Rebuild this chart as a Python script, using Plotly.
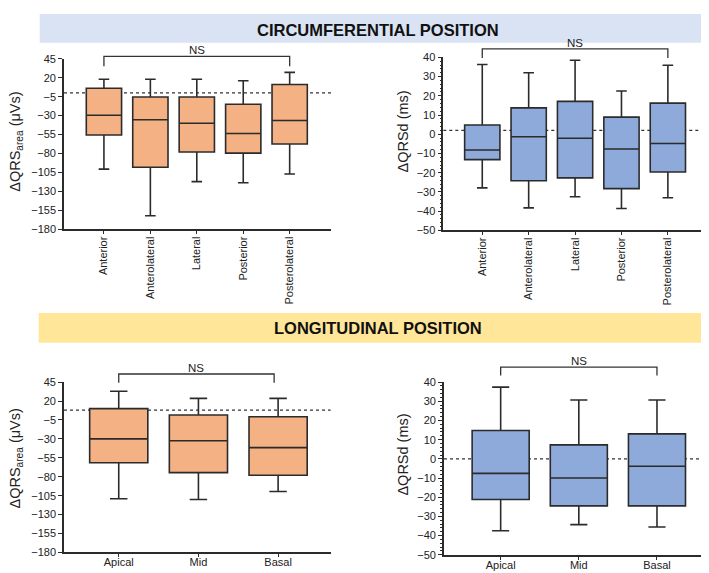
import plotly.graph_objects as go

# ---------------- data ----------------
circ_cats = ["Anterior", "Anterolateral", "Lateral", "Posterior", "Posterolateral"]
circ_area_lo = [-100.5, -162, -117, -118.5, -107]
circ_area_q1 = [-55.5, -98, -78, -79.5, -67.5]
circ_area_med = [-29.5, -35.5, -40, -53.5, -36.5]
circ_area_q3 = [6, -5.5, -5.5, -15, 11]
circ_area_hi = [18, 18, 18, 16, 27]

circ_qrsd_lo = [-27.9, -38.3, -32.5, -38.6, -33]
circ_qrsd_q1 = [-13.2, -24.2, -22.7, -28.3, -19.6]
circ_qrsd_med = [-8.2, -1.3, -2.1, -7.7, -4.8]
circ_qrsd_q3 = [4.8, 13.7, 17.1, 8.9, 16.2]
circ_qrsd_hi = [36.3, 32, 38.5, 22.5, 35.9]

long_cats = ["Apical", "Mid", "Basal"]
long_area_lo = [-109, -110, -99.5]
long_area_q1 = [-61.5, -74.5, -78]
long_area_med = [-30, -32.5, -41.5]
long_area_q3 = [10, 1.5, -0.7]
long_area_hi = [33, 23.5, 23.5]

long_qrsd_lo = [-37.5, -34.3, -35.5]
long_qrsd_q1 = [-21.2, -24.5, -24.5]
long_qrsd_med = [-7.6, -10, -3.9]
long_qrsd_q3 = [14.8, 7.3, 13]
long_qrsd_hi = [37.4, 30.7, 30.7]

area_ticks = [45, 20, -5, -30, -55, -80, -105, -130, -155, -180]
qrsd_ticks = [40, 30, 20, 10, 0, -10, -20, -30, -40, -50]

ref_lines = {"y": 0, "y2": 2, "y3": 8, "y4": 0}

# ---------------- style ----------------
W, H = 709, 573
ORANGE = "#f4b183"
BLUE = "#8eaadb"
EDGE = "#2b2b2b"
FONT = "Liberation Sans, Arial, sans-serif"


def px_x(p):
    return p / W


def px_y(p):
    return 1 - p / H


fig = go.Figure()

panels = [
    ("x", "y", circ_cats, circ_area_lo, circ_area_q1, circ_area_med, circ_area_q3, circ_area_hi,
     ORANGE, 0.76, (56, 323), (45.7, 220), [-180, 45], area_ticks, [-0.86, 4.89], False),
    ("x2", "y2", circ_cats, circ_qrsd_lo, circ_qrsd_q1, circ_qrsd_med, circ_qrsd_q3, circ_qrsd_hi,
     BLUE, 0.76, (435.3, 700.7), (44.3, 221), [-50, 40], qrsd_ticks, [-0.84, 4.88], True),
    ("x3", "y3", long_cats, long_area_lo, long_area_q1, long_area_med, long_area_q3, long_area_hi,
     ORANGE, 0.73, (56, 322.7), (376, 550), [-180, 45], area_ticks, [-0.687, 2.66], False),
    ("x4", "y4", long_cats, long_qrsd_lo, long_qrsd_q1, long_qrsd_med, long_qrsd_q3, long_qrsd_hi,
     BLUE, 0.73, (436, 703.3), (376, 552.3), [-50, 40], qrsd_ticks, [-0.725, 2.695], True),
]

layout_axes = {}
shapes = []
annotations = []

for i, (xa, ya, cats, lo, q1, med, q3, hi, col, bw, xd, yd, yr, ticks, xr, minor) in enumerate(panels):
    fig.add_trace(go.Box(
        x=cats, lowerfence=lo, q1=q1, median=med, q3=q3, upperfence=hi,
        xaxis=xa, yaxis=ya, fillcolor=col, line=dict(color=EDGE, width=1.6),
        width=bw, whiskerwidth=0.3, boxpoints=False, showlegend=False,
        hoverinfo="skip",
    ))
    xkey = "xaxis" + ("" if xa == "x" else xa[1:])
    ykey = "yaxis" + ("" if ya == "y" else ya[1:])
    rotated = len(cats) == 5
    layout_axes[xkey] = dict(
        domain=[px_x(xd[0]), px_x(xd[1])], anchor=ya, type="category",
        categoryorder="array", categoryarray=cats, range=xr,
        showline=True, linecolor=EDGE, linewidth=1.6, showgrid=False, zeroline=False,
        ticks="outside", ticklen=3, tickcolor=EDGE, tickwidth=1.2,
        tickangle=-90 if rotated else 0,
        ticklabelstandoff=-2 if rotated else -4,
        tickfont=dict(size=11, color="#222", family=FONT),
    )
    yax = dict(
        domain=[px_y(yd[1]), px_y(yd[0])], anchor=xa, range=yr,
        tickvals=ticks, showline=True, linecolor=EDGE, linewidth=1.6,
        showgrid=False, zeroline=False, ticks="outside", ticklen=4,
        tickcolor=EDGE, tickwidth=1.2,
        tickfont=dict(size=11, color="#222", family=FONT),
    )
    if minor:
        yax["minor"] = dict(dtick=2, ticks="outside", ticklen=2, tickcolor=EDGE, tickwidth=1)
    layout_axes[ykey] = yax

    shapes.append(dict(
        type="line", xref=xa + " domain", yref=ya, x0=0, x1=1,
        y0=ref_lines[ya], y1=ref_lines[ya], layer="below",
        line=dict(color="#333", width=1.2, dash="dot"),
    ))

brackets = [
    ("x", 0, 4, 43.3, 53.3),
    ("x2", 0, 4, 35.7, 45.0),
    ("x3", 0, 1.95, 367.7, 376.7),
    ("x4", 0, 2, 360.7, 369.3),
]
for xa, a, b, ytop, ybot in brackets:
    shapes.append(dict(
        type="path", xref=xa, yref="paper",
        path=f"M {a},{px_y(ybot)} L {a},{px_y(ytop)} L {b},{px_y(ytop)} L {b},{px_y(ybot)}",
        line=dict(color="#333", width=1.3),
    ))
    annotations.append(dict(
        text="NS", xref=xa, yref="paper", x=(a + b) / 2, y=px_y(ytop),
        xanchor="center", yanchor="bottom", showarrow=False, yshift=-2,
        font=dict(size=11.5, color="#222", family=FONT),
    ))

shapes.append(dict(type="rect", xref="paper", yref="paper",
                   x0=px_x(31.7), x1=1, y0=px_y(29.3), y1=1,
                   fillcolor="#dae3f3", line=dict(width=0), layer="below"))
shapes.append(dict(type="rect", xref="paper", yref="paper",
                   x0=px_x(30.7), x1=1, y0=px_y(335.7), y1=px_y(305.3),
                   fillcolor="#ffe699", line=dict(width=0), layer="below"))

annotations.append(dict(text="<b>CIRCUMFERENTIAL POSITION</b>", xref="paper", yref="paper",
                        x=px_x(370), y=px_y(16), xanchor="center", yanchor="middle",
                        showarrow=False, font=dict(size=16.5, color="#111", family=FONT)))
annotations.append(dict(text="<b>LONGITUDINAL POSITION</b>", xref="paper", yref="paper",
                        x=px_x(370), y=px_y(321), xanchor="center", yanchor="middle",
                        showarrow=False, font=dict(size=16.5, color="#111", family=FONT)))

ytitles = [
    ("ΔQRS<sub>area</sub> (μVs)", 8, 130.5),
    ("ΔQRSd (ms)", 395, 120),
    ("ΔQRS<sub>area</sub> (μVs)", 8, 454),
    ("ΔQRSd (ms)", 395, 450),
]
for t, xp, yp in ytitles:
    annotations.append(dict(text=t, xref="paper", yref="paper", x=px_x(xp), y=px_y(yp),
                            xanchor="center", yanchor="middle", textangle=-90,
                            showarrow=False, font=dict(size=14.5, color="#222", family=FONT)))

fig.update_layout(
    width=W, height=H, margin=dict(l=0, r=0, t=0, b=0),
    paper_bgcolor="white", plot_bgcolor="white",
    font=dict(family=FONT, color="#222"),
    shapes=shapes, annotations=annotations, showlegend=False,
    **layout_axes,
)

fig.write_html("out.html")
